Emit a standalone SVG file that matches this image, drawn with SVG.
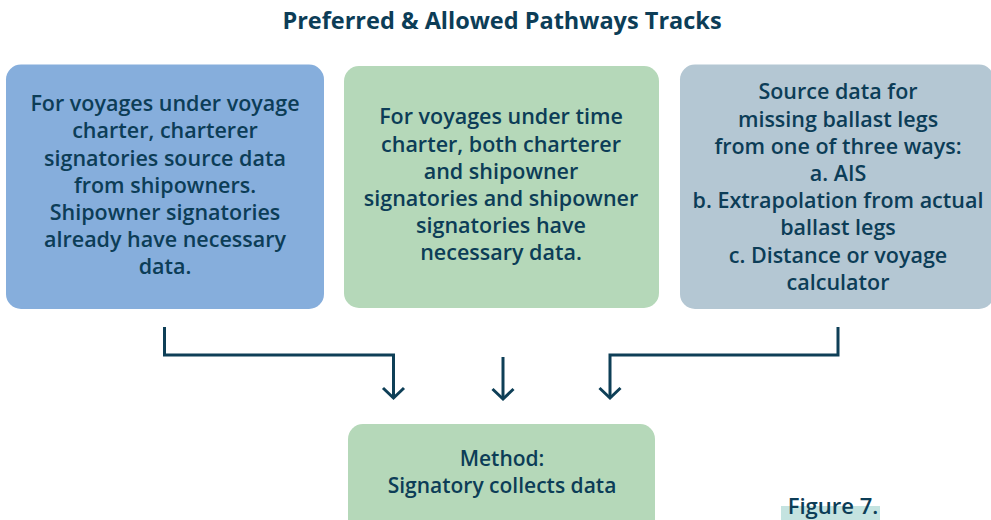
<svg xmlns="http://www.w3.org/2000/svg" width="991" height="520" viewBox="0 0 991 520">
<defs>
<style>
.t{font-family:"Open Sans","Noto Sans","Liberation Sans",sans-serif;font-weight:600;font-size:21.5px;fill:#0c3d57;text-anchor:middle}
.title{font-family:"Open Sans","Noto Sans","Liberation Sans",sans-serif;font-weight:700;font-size:23.5px;fill:#0c3d57;text-anchor:middle}
.c{fill:none;stroke:#0e3f57;stroke-width:3}
</style>
</defs>
<rect width="991" height="520" fill="#ffffff"/>
<text class="title" x="502" y="29">Preferred &amp; Allowed Pathways Tracks</text>
<g id="node-voyage">
<rect x="6" y="64.5" width="318" height="244.5" rx="15" fill="#86aedc"/>
<text class="t" x="165" y="111">For voyages under voyage</text>
<text class="t" x="165" y="138">charter, charterer</text>
<text class="t" x="165" y="165.5">signatories source data</text>
<text class="t" x="165" y="192.5">from shipowners.</text>
<text class="t" x="165" y="219.5">Shipowner signatories</text>
<text class="t" x="165" y="247">already have necessary</text>
<text class="t" x="165" y="274">data.</text>
</g>
<g id="node-time">
<rect x="344" y="66" width="315" height="242" rx="15" fill="#b5d8b9"/>
<text class="t" x="501" y="124">For voyages under time</text>
<text class="t" x="501" y="151.5">charter, both charterer</text>
<text class="t" x="501" y="178.5">and shipowner</text>
<text class="t" x="501" y="205.5">signatories and shipowner</text>
<text class="t" x="501" y="232.5">signatories have</text>
<text class="t" x="501" y="260">necessary data.</text>
</g>
<g id="node-ballast">
<rect x="680" y="64.5" width="314" height="244.5" rx="15" fill="#b4c7d3"/>
<text class="t" x="838" y="99">Source data for</text>
<text class="t" x="838" y="126.5">missing ballast legs</text>
<text class="t" x="838" y="153.5">from one of three ways:</text>
<text class="t" x="838" y="180.5">a. AIS</text>
<text class="t" x="838" y="207.5">b. Extrapolation from actual</text>
<text class="t" x="838" y="235">ballast legs</text>
<text class="t" x="838" y="262.5">c. Distance or voyage</text>
<text class="t" x="838" y="290">calculator</text>
</g>
<g id="node-method">
<rect x="348" y="424" width="307" height="110" rx="15" fill="#b5d8b9"/>
<text class="t" x="502" y="466" style="font-size:21px">Method:</text>
<text class="t" x="502" y="493" style="font-size:21px">Signatory collects data</text>
</g>
<g id="connectors">
<polyline class="c" points="164.5,327 164.5,355 393.5,355 393.5,397"/>
<polyline class="c" points="383,388 393.5,398 404,388"/>
<line class="c" x1="503" y1="357" x2="503" y2="398"/>
<polyline class="c" points="492.5,389 503,399 513.5,389"/>
<polyline class="c" points="838,327 838,355 610,355 610,397"/>
<polyline class="c" points="599.5,388 610,398 620.5,388"/>
</g>
<g id="caption">
<rect x="781" y="506" width="99" height="14" fill="#c4e3e0"/>
<text class="t" x="833" y="514" style="font-size:22px">Figure 7.</text>
</g>
</svg>
